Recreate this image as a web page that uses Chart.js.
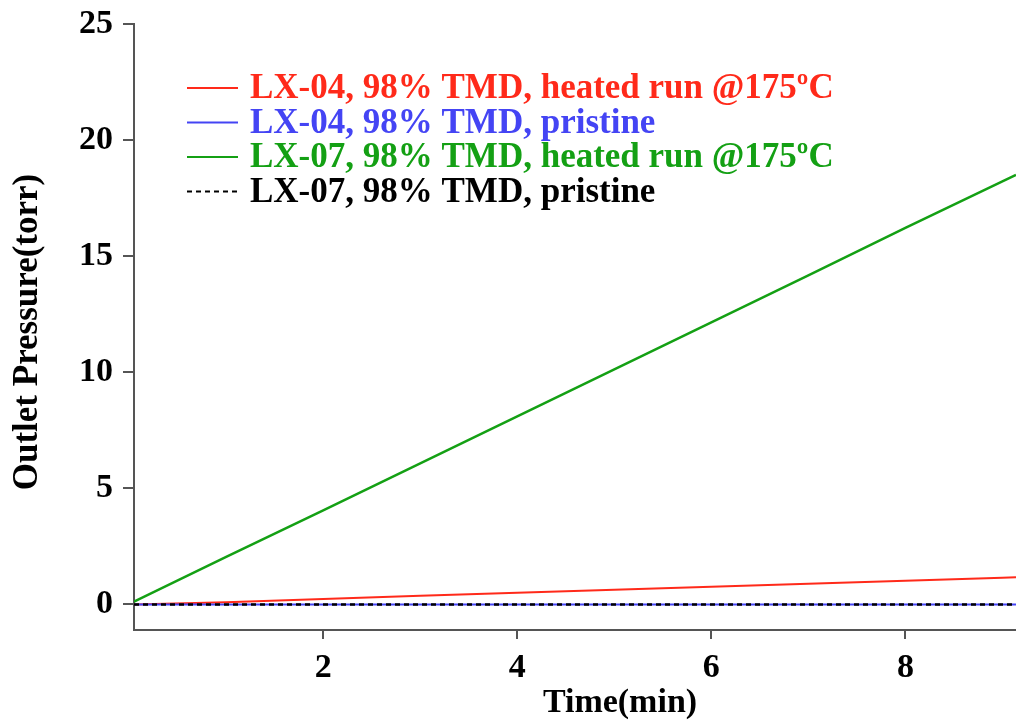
<!DOCTYPE html>
<html>
<head>
<meta charset="utf-8">
<script src="https://cdn.jsdelivr.net/npm/chart.js@4"></script>
<style>
  html, body { margin: 0; padding: 0; background: #fff; }
  #wrap { width: 1016px; height: 721px; }
</style>
</head>
<body>
<div id="wrap"><canvas id="PressureChart" width="1016" height="721"></canvas></div>
<script>
// time (min) sample points
const times = [0.05, 1, 2, 3, 4, 5, 6, 7, 8, 9, 9.14];
// outlet pressure (torr)
const lx04Heated   = [0, 0.1, 0.24, 0.37, 0.5, 0.63, 0.76, 0.89, 1.02, 1.15, 1.17];
const lx04Pristine = [0, 0, 0, 0, 0, 0, 0, 0, 0, 0, 0];
const lx07Heated   = [0.12, 2.05, 4.05, 6.08, 8.1, 10.12, 12.15, 14.17, 16.22, 18.22, 18.5];
const lx07Pristine = [0, 0, 0, 0, 0, 0, 0, 0, 0, 0, 0];

const seriesLabels = [
  'LX-04, 98% TMD, heated run @175\u00baC',
  'LX-04, 98% TMD, pristine',
  'LX-07, 98% TMD, heated run @175\u00baC',
  'LX-07, 98% TMD, pristine'
];
const xTicks = [2, 4, 6, 8];
const yTicks = [0, 5, 10, 15, 20, 25];

const FONT = '"Liberation Serif", "Times New Roman", serif';

function pts(ys) {
  return times.map((t, i) => ({ x: t, y: ys[i] }));
}

const data = {
  datasets: [
    { label: seriesLabels[0], data: pts(lx04Heated), borderColor: '#ff2a1a', borderWidth: 2, order: 3 },
    { label: seriesLabels[1], data: pts(lx04Pristine), borderColor: '#4444f4', borderWidth: 2, order: 2 },
    { label: seriesLabels[2], data: pts(lx07Heated), borderColor: '#14a014', borderWidth: 2.5, order: 4 },
    { label: seriesLabels[3], data: pts(lx07Pristine), borderColor: '#000000', borderWidth: 2.5, borderDash: [5, 4], order: 1 }
  ]
};

// legend and axis titles drawn by hand so they sit where we want them
const annotations = {
  id: 'annotations',
  afterDraw(chart) {
    const { ctx } = chart;
    ctx.save();
    ctx.textBaseline = 'middle';
    ctx.font = 'bold 35px ' + FONT;
    chart.data.datasets.forEach((ds, i) => {
      const y = 88 + i * 34.5;
      ctx.strokeStyle = ds.borderColor;
      ctx.lineWidth = 2;
      ctx.setLineDash(ds.borderDash || []);
      ctx.beginPath();
      ctx.moveTo(187, y);
      ctx.lineTo(238, y);
      ctx.stroke();
      ctx.setLineDash([]);
      ctx.fillStyle = ds.borderColor;
      ctx.textAlign = 'left';
      ctx.fillText(ds.label, 250, y + 1);
    });

    ctx.fillStyle = '#000';
    ctx.font = 'bold 34px ' + FONT;
    ctx.textAlign = 'center';
    ctx.fillText('Time(min)', 620, 703);

    ctx.font = 'bold 35px ' + FONT;
    ctx.translate(28, 332);
    ctx.rotate(-Math.PI / 2);
    ctx.fillText('Outlet Pressure(torr)', 0, 0);
    ctx.restore();
  }
};

const ctx = document.getElementById('PressureChart').getContext('2d');

const chart = new Chart(ctx, {
  type: 'line',
  data: data,
  options: {
    responsive: false,
    animation: false,
    devicePixelRatio: 1,
    layout: { padding: { top: 24, right: 0, left: 0, bottom: 0 } },
    elements: { point: { radius: 0 }, line: { tension: 0 } },
    plugins: { legend: { display: false }, tooltip: { enabled: false } },
    scales: {
      x: {
        type: 'linear',
        min: 0.05,
        max: 9.14,
        afterBuildTicks(scale) { scale.ticks = xTicks.map(v => ({ value: v })); },
        afterFit(scale) { scale.height = 91; scale.paddingLeft = 0; scale.paddingRight = 0; },
        border: { color: '#555', width: 2 },
        grid: { drawOnChartArea: false, drawTicks: true, tickLength: 9, color: '#555', lineWidth: 2 },
        ticks: { color: '#000', padding: 9, font: { family: FONT, size: 34, weight: 'bold' } }
      },
      y: {
        type: 'linear',
        min: -1.1,
        max: 25,
        afterBuildTicks(scale) { scale.ticks = yTicks.map(v => ({ value: v })); },
        afterFit(scale) { scale.width = 134; scale.paddingTop = 0; scale.paddingBottom = 0; },
        border: { color: '#555', width: 2 },
        grid: { drawOnChartArea: false, drawTicks: true, tickLength: 11, color: '#555', lineWidth: 2 },
        ticks: { color: '#000', padding: 10, font: { family: FONT, size: 34, weight: 'bold' } }
      }
    }
  },
  plugins: [annotations]
});
</script>
</body>
</html>
